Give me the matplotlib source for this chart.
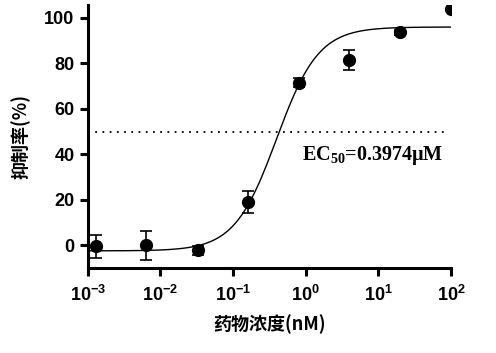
import numpy as np
import matplotlib
matplotlib.use('Agg')
import matplotlib.pyplot as plt

# Dose-response data (concentration in nM, inhibition %)
conc = [0.00129, 0.0064, 0.0327, 0.16, 0.80, 3.94, 20.0, 100.0]
inhib = [-0.5, 0.0, -2.2, 19.0, 71.4, 81.5, 93.6, 104.0]
err = [5.0, 6.4, 2.0, 5.0, 2.0, 4.5, 1.0, 0.0]

# Four-parameter logistic fit parameters
bottom = -2.5
top = 96.0
ec50 = 0.3974
hill = 1.5

plt.rcParams['font.family'] = ['Liberation Sans', 'Noto Sans CJK SC']
plt.rcParams['mathtext.fontset'] = 'custom'
plt.rcParams['mathtext.bf'] = 'Liberation Serif:bold'

fig = plt.figure(figsize=(4.96, 3.53), dpi=100)
ax = fig.add_axes([0.177, 0.241, 0.732, 0.745])

xs = np.logspace(-3, 2, 400)
ys = bottom + (top - bottom) / (1 + (ec50 / xs) ** hill)
ax.plot(xs, ys, color='black', lw=1.0)

ax.errorbar(conc, inhib, yerr=err, fmt='o', color='black', ms=8.5,
            capsize=4, elinewidth=1.2, capthick=1.2)

ax.plot([1e-3, 85], [50, 50], color='black', lw=1.3, linestyle=(0, (1, 3)))

ax.text(8.5, 39.5, r'$\mathbf{EC_{50}}$=0.3974μM', ha='center', va='center',
        fontsize=14.5, fontweight='bold', family=['Liberation Serif', 'DejaVu Serif'])

ax.set_xscale('log')
ax.set_xlim(1e-3, 1e2)
ax.set_ylim(-10, 105.7)
ax.set_yticks([0, 20, 40, 60, 80, 100])
ax.set_xticks([1e-3, 1e-2, 1e-1, 1e0, 1e1, 1e2])
ax.xaxis.set_minor_locator(matplotlib.ticker.NullLocator())

for s in ['top', 'right']:
    ax.spines[s].set_visible(False)
for s in ['left', 'bottom']:
    ax.spines[s].set_linewidth(2.2)
ax.tick_params(width=2.2, length=6, labelsize=13)
ax.tick_params(axis='x', pad=6)
for lab in ax.get_xticklabels() + ax.get_yticklabels():
    lab.set_fontweight('bold')

ax.set_ylabel('抑制率(%)', fontsize=13, fontweight='bold',
              family=['Noto Sans CJK SC', 'Liberation Serif'], labelpad=10)
ax.set_xlabel('药物浓度(nM)', fontsize=13, fontweight='bold',
              family=['Noto Sans CJK SC', 'Liberation Serif'], labelpad=7)

fig.savefig('out.png', dpi=100)
